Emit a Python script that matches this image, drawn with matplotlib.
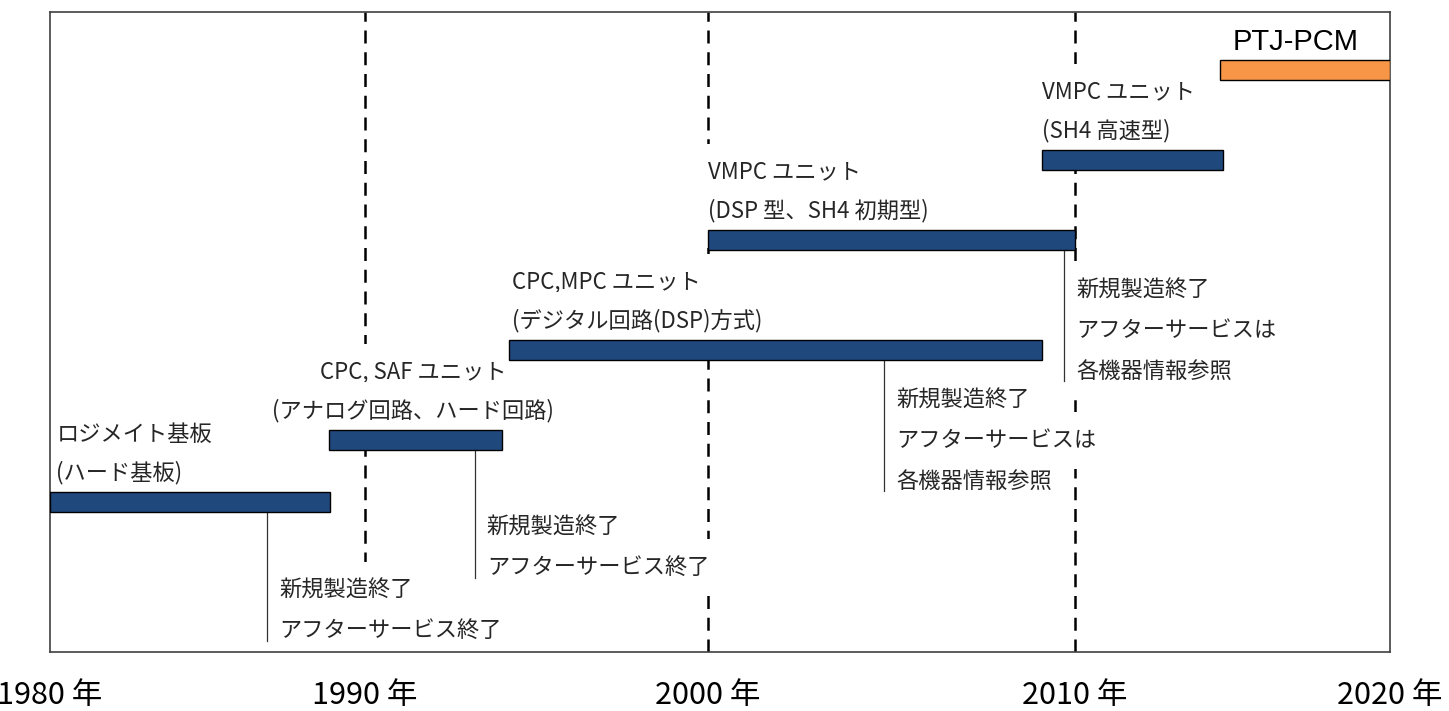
import numpy as np
import matplotlib.pyplot as plt

plt.rcParams['font.family'] = ['Noto Sans CJK JP', 'DejaVu Sans']

#### Data

decades = [1980, 1990, 2000, 2010, 2020]
decade_labels = ["1980 年", "1990 年", "2000 年", "2010 年", "2020 年"]

products = ["ロジメイト基板", "CPC, SAF ユニット", "CPC,MPC ユニット",
            "VMPC ユニット", "VMPC ユニット", "PTJ-PCM"]
subtitles = ["(ハード基板)", "(アナログ回路、ハード回路)", "(デジタル回路(DSP)方式)",
             "(DSP 型、SH4 初期型)", "(SH4 高速型)", None]
start = [1980.0, 1988.85, 1994.2, 2000.0, 2009.1, 2014.6]
end = [1988.9, 1994.0, 2009.1, 2010.0, 2014.7, 2020.0]

# end of new production (connector line) and the note under it
prod_end = [1986.9, 1993.2, 2004.8, 2009.7]
notes = [["新規製造終了", "アフターサービス終了"],
         ["新規製造終了", "アフターサービス終了"],
         ["新規製造終了", "アフターサービスは", "各機器情報参照"],
         ["新規製造終了", "アフターサービスは", "各機器情報参照"]]

#### Layout

# the original drawing spaces the decades unevenly along the axis
decade_pos = [0.0, 0.2351, 0.4910, 0.7649, 1.0]
rows = [15.0, 21.2, 30.2, 41.2, 49.2, 58.2]
label_x = [1980.2, 1991.4, 1994.3, 2000.0, 2009.1, 2015.0]
label_ha = ["left", "center", "left", "left", "left", "left"]
note_top = [6.2, 12.5, 25.2, 36.2]
bar_colors = ["#1f497d"] * 5 + ["#f79646"]

fwd = lambda x: np.interp(x, decades, decade_pos)
inv = lambda x: np.interp(x, decade_pos, decades)

fig = plt.figure(figsize=(14.49, 7.11), dpi=100)
ax = fig.add_axes([50 / 1449, 59 / 711, 1340 / 1449, 640 / 711])
ax.set_xscale("function", functions=(fwd, inv))
ax.set_xlim(1980, 2020)
ax.set_ylim(0, 64)

for d in decades[1:-1]:
    ax.axvline(d, color="black", linewidth=1.8, dashes=(5.2, 3.5), zorder=1)

ax.barh(rows, np.array(end) - np.array(start), left=start, height=2.0,
        color=bar_colors, edgecolor="black", linewidth=1.0, zorder=4)

box = dict(facecolor="white", edgecolor="none", pad=12)
txt = dict(fontsize=16, color="#262626", va="center", zorder=2, bbox=box)

for i in range(5):
    ax.text(label_x[i], rows[i] + 6.8, products[i], ha=label_ha[i], **txt)
    ax.text(label_x[i], rows[i] + 2.9, subtitles[i], ha=label_ha[i], **txt)

ax.text(label_x[5], rows[5] + 2.8, products[5], ha="left", va="center",
        fontsize=21, family=["Liberation Sans", "DejaVu Sans"], color="black", zorder=2)

for i in range(4):
    last = note_top[i] - 4.05 * (len(notes[i]) - 1)
    ax.plot([prod_end[i], prod_end[i]], [rows[i] - 1.0, last - 1.0],
            color="#333333", linewidth=0.9, zorder=3)
    nx = inv(fwd(prod_end[i]) + 12 / 1340)
    for j, line in enumerate(notes[i]):
        ax.text(nx, note_top[i] - 4.05 * j, line, ha="left", **txt)

ax.set_yticks([])
ax.set_xticks(decades, decade_labels)
ax.tick_params(axis="x", length=0, pad=20)
for lbl in ax.get_xticklabels():
    lbl.set_fontfamily(["Liberation Sans Narrow", "Noto Sans CJK JP"])
    lbl.set_fontsize(22)
ax.minorticks_off()
for s in ax.spines.values():
    s.set_color("#404040")
    s.set_linewidth(1.2)

fig.savefig("out.png", dpi=100)
